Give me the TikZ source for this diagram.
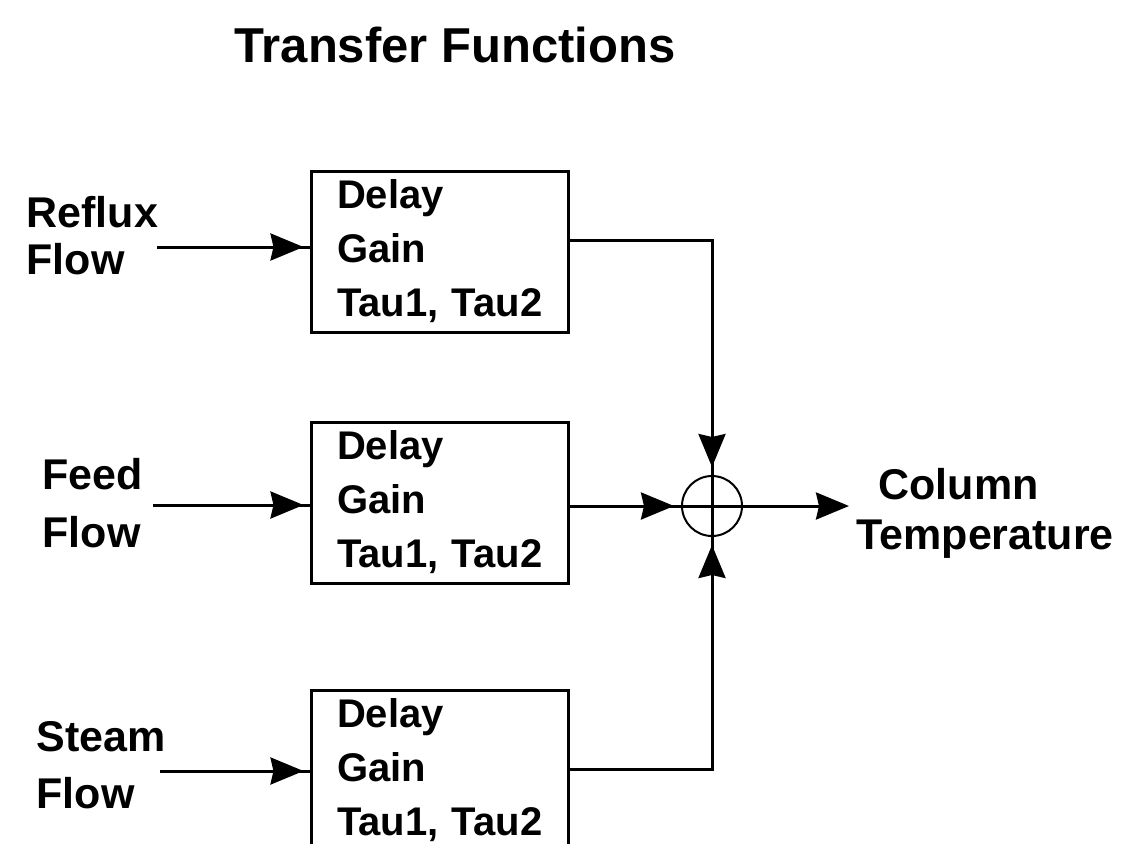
\documentclass[tikz,border=0pt]{standalone}
\usepackage{fontspec}
\setmainfont{Liberation Sans}
\usetikzlibrary{arrows.meta,decorations.markings}
\begin{document}
\begin{tikzpicture}[x=1pt,y=-1pt,
  line width=3pt,
  tfbox/.style={draw, rectangle, minimum width=257pt, minimum height=161pt,
    inner sep=0pt, align=left, text width=205pt,
    font=\bfseries\fontsize{40}{54}\selectfont},
  lbl/.style={align=left, inner sep=0pt, anchor=north west,
    font=\bfseries\fontsize{43}{#1}\selectfont},
  headtip/.tip={Stealth[length=33pt,width=27pt,inset=3pt]},
  arrat/.style={postaction={decorate}, decoration={markings,
    mark=at position #1 with {\arrow{headtip}}}},
]
\useasboundingbox (0,0) rectangle (1131,843);
\clip (0,0) rectangle (1131,843);

\node[anchor=base west, inner sep=0pt, font=\bfseries\fontsize{49}{55}\selectfont]
  (title) at (233,63) {Transfer Functions};

\node[tfbox] (b1) at (439.5,251.5) {Delay\\Gain\\\mbox{Tau1, Tau2}};
\node[tfbox] (b2) at (439.5,502.5) {Delay\\Gain\\\mbox{Tau1, Tau2}};
\node[tfbox] (b3) at (439.5,770.5) {Delay\\Gain\\\mbox{Tau1, Tau2}};

\node[draw, circle, line width=2pt, minimum size=60pt, inner sep=0pt] (sum) at (712,506) {};

\node[lbl=47pt] (reflux) at (25,195) {Reflux\\Flow};
\node[lbl=58pt] (feed) at (41,457) {Feed\\Flow};
\node[lbl=57pt] (steam) at (35,720) {Steam\\Flow};
\node[lbl=50pt] (col) at (855,467) {\hspace*{22pt}Column\\Temperature};

\coordinate (rin) at (157,247);
\coordinate (fin) at (153,505);
\coordinate (sin) at (160,771);
\coordinate (out) at (849,506);

\draw[arrat=-6pt] (rin) -- (rin -| b1.west);
\draw[arrat=-6pt] (fin) -- (fin -| b2.west);
\draw[arrat=-6pt] (sin) -- (sin -| b3.west);

\draw[arrat=-39pt] ([yshift=11.5pt]b1.east) -| (sum.center);
\draw[arrat=-38pt] ([yshift=-3.5pt]b2.east) -- (sum.west) -- (sum.center);
\draw[arrat=-39pt] ([yshift=1.5pt]b3.east) -| (sum.center);
\draw[-headtip] (sum.center) -- (out);
\end{tikzpicture}
\end{document}
